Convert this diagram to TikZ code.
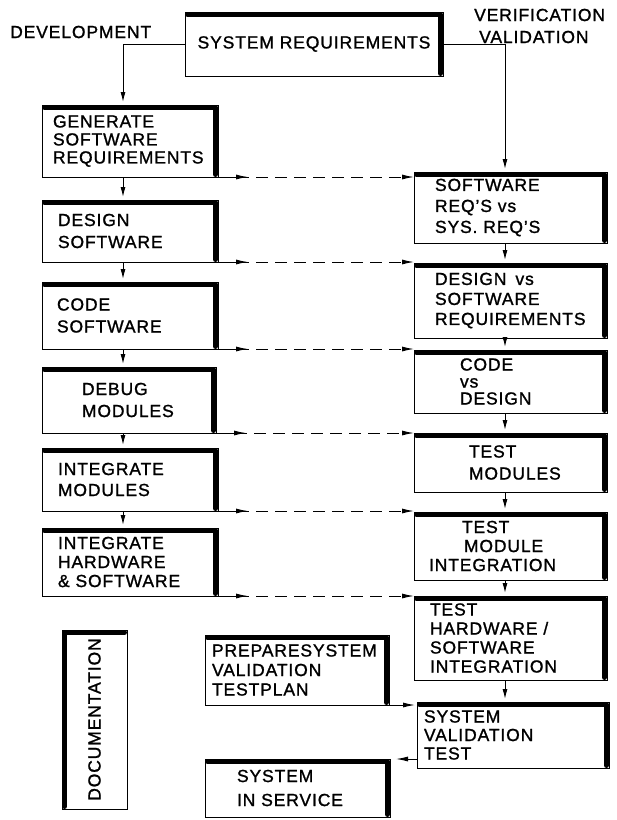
\documentclass[tikz,border=0pt]{standalone}
\usepackage{fontspec}
\setmainfont{Liberation Sans}[LetterSpace=5, FakeBold=1.2]
\usetikzlibrary{arrows.meta,decorations.markings,calc}
\begin{document}
\begin{tikzpicture}[x=1pt,y=-1pt,
  every node/.style={font=\fontsize{17.5}{20}\selectfont},
  box/.style={draw, line width=1pt, anchor=north west, align=left, inner xsep=6pt, inner ysep=0pt, outer sep=0pt},
  lbl/.style={inner sep=0pt, anchor=west, align=left},
  heavy/.style={line width=5pt, line cap=round, line join=round},
  arr/.style={line width=1pt, -{Latex[length=10pt,width=5pt]}},
  dl/.style={line width=1pt, dash pattern=on 12pt off 7pt, -{Latex[length=12pt,width=5pt]},
    postaction={decorate},
    decoration={markings,
      mark=at position 0pt with {\draw[solid,-,line width=1pt] (0pt,0pt) -- (30pt,0pt);},
      mark=at position 30pt with {\arrow{Latex[length=12pt,width=5pt]}}}}
]
\useasboundingbox (0,0) rectangle (617,820);

% labels
\node[lbl] (dev) at (10,32) {DEVELOPMENT};
\node[lbl] (vv) at (474,26) {VERIFICATION\\[2pt]\hspace*{5pt}VALIDATION};

% left column
\node[box, align=center, text width=246, minimum height=64] (sysreq) at (185,12) {SYSTEM REQUIREMENTS};
\node[box, text width=164, minimum height=72] (gen) at (42,105) {\hspace*{5pt}GENERATE\\[-2pt]\hspace*{5pt}SOFTWARE\\[-2pt]\hspace*{5pt}REQUIREMENTS};
\node[box, text width=164, minimum height=62] (design) at (42,200) {\hspace*{10pt}DESIGN\\[2pt]\hspace*{10pt}SOFTWARE};
\node[box, text width=164, minimum height=67] (code) at (42,282) {\hspace*{9pt}CODE\\[2pt]\hspace*{9pt}SOFTWARE};
\node[box, text width=162, minimum height=66] (debug) at (42,367) {\hspace*{34pt}DEBUG\\[2pt]\hspace*{34pt}MODULES};
\node[box, text width=164, minimum height=63] (intmod) at (42,448) {\hspace*{10pt}INTEGRATE\\[1pt]\hspace*{10pt}MODULES};
\node[box, text width=164, minimum height=68] (inthw) at (42,528) {\hspace*{10pt}INTEGRATE\\[-1pt]\hspace*{10pt}HARDWARE\\[-1pt]\hspace*{10pt}\& SOFTWARE};

% right column
\node[box, text width=181, minimum height=71] (swreq) at (414,172) {\hspace*{15pt}SOFTWARE\\[1pt]\hspace*{15pt}REQ'S vs\\[1pt]\hspace*{15pt}SYS. REQ'S};
\node[box, text width=181, minimum height=75] (desvs) at (414,263) {\hspace*{15pt}DESIGN\hspace{9pt}vs\\\hspace*{15pt}SOFTWARE\\\hspace*{15pt}REQUIREMENTS};
\node[box, text width=181, minimum height=63] (codevs) at (414,350) {\hspace*{40pt}CODE\\[-3pt]\hspace*{40pt}vs\\[-3pt]\hspace*{40pt}DESIGN};
\node[box, text width=181, minimum height=59] (testmod) at (414,433) {\hspace*{49pt}TEST\\[2pt]\hspace*{49pt}MODULES};
\node[box, text width=181, minimum height=68] (testmi) at (414,512) {\hspace*{42pt}TEST\\[-1pt]\hspace*{44pt}MODULE\\[-1pt]\hspace*{9pt}INTEGRATION};
\node[box, text width=181, minimum height=84] (testhw) at (414,596) {\hspace*{10pt}TEST\\[-1pt]\hspace*{10pt}HARDWARE /\\[-1pt]\hspace*{10pt}SOFTWARE\\[-1pt]\hspace*{10pt}INTEGRATION};
\node[box, text width=180, minimum height=66] (svt) at (417,702) {\hspace*{1pt}SYSTEM\\[-1.5pt]\hspace*{1pt}VALIDATION\\[-1.5pt]\hspace*{1pt}TEST};

% bottom
\node[box, align=center, inner xsep=0pt, minimum width=65, minimum height=179] (doc) at (62,630) {\rotatebox{90}{DOCUMENTATION}};
\node[box, text width=172, minimum height=70] (prep) at (205,635) {\hspace*{1pt}PREPARESYSTEM\\[-0.5pt]\hspace*{1pt}VALIDATION\\[-0.5pt]\hspace*{1pt}TESTPLAN};
\node[box, text width=173, minimum height=58] (sis) at (205,759) {\hspace*{26pt}SYSTEM\\[4pt]\hspace*{26pt}IN SERVICE};

% heavy top and right edges
\foreach \n in {sysreq,gen,design,code,debug,intmod,inthw,swreq,desvs,codevs,testmod,testmi,testhw,svt,prep,sis}
  \draw[heavy] ([xshift=2.5pt,yshift=-2.5pt]\n.north west) -- ([xshift=-2.5pt,yshift=-2.5pt]\n.north east) -- ([xshift=-2.5pt,yshift=2.5pt]\n.south east);
\draw[heavy] ([xshift=2.5pt,yshift=2.5pt]doc.south west) -- ([xshift=2.5pt,yshift=-2.5pt]doc.north west) -- ([xshift=-2.5pt,yshift=-2.5pt]doc.north east);

% connectors
\coordinate (lx) at (123,0);
\coordinate (rx) at (505,0);
\draw[arr, shorten >=3pt] (sysreq.west) -| (lx |- gen.north);
\draw[arr, shorten >=3pt] (sysreq.east) -| (rx |- swreq.north);
\foreach \a/\b in {gen/design, design/code, code/debug, debug/intmod, intmod/inthw}
  \draw[arr, shorten >=3pt] (lx |- \a.south) -- (lx |- \b.north);
\foreach \a/\b in {swreq/desvs, desvs/codevs, codevs/testmod, testmod/testmi, testmi/testhw, testhw/svt}
  \draw[arr, shorten >=3pt] (rx |- \a.south) -- (rx |- \b.north);
\foreach \a/\b in {gen/swreq, design/desvs, code/codevs, debug/testmod, intmod/testmi, inthw/testhw}
  \draw[dl] (\a.south east) -- (\a.south east -| \b.west);
\draw[arr, -{Latex[length=12pt,width=5pt]}, shorten >=2pt] (prep.south east) -- (prep.south east -| svt.west);
\draw[arr, -{Latex[length=12pt,width=5pt]}, shorten >=6pt] (svt.west |- sis.north east) -- (sis.north east);
\end{tikzpicture}
\end{document}
